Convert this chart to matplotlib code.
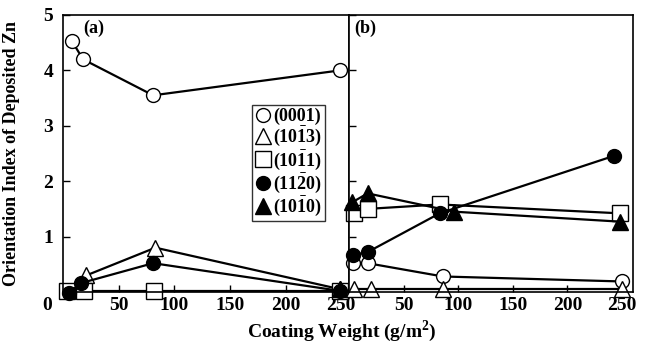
import matplotlib
matplotlib.use("Agg")
import matplotlib.pyplot as plt

plt.rcParams['font.family'] = 'Liberation Serif'
plt.rcParams['font.weight'] = 'bold'
plt.rcParams['mathtext.fontset'] = 'custom'
plt.rcParams['mathtext.rm'] = 'Liberation Serif:bold'
plt.rcParams['mathtext.bf'] = 'Liberation Serif:bold'

# Panel (a)
a_x_0001 = [8, 18, 81, 249]
a_y_0001 = [4.53, 4.2, 3.55, 4.0]
a_x_1013 = [21, 83, 249]
a_y_1013 = [0.3, 0.8, 0.05]
a_x_1011 = [4, 19, 82, 249]
a_y_1011 = [0.02, 0.02, 0.02, 0.02]
a_x_1120 = [5, 16, 81, 249]
a_y_1120 = [-0.02, 0.16, 0.52, 0.02]
a_x_1010 = [249]
a_y_1010 = [0.05]

# Panel (b)
b_x_0001 = [4, 17, 86, 250]
b_y_0001 = [0.52, 0.52, 0.28, 0.19]
b_x_1013 = [5, 20, 86, 250]
b_y_1013 = [0.05, 0.05, 0.05, 0.05]
b_x_1011 = [5, 17, 83, 248]
b_y_1011 = [1.42, 1.5, 1.58, 1.42]
b_x_1120 = [4, 17, 83, 243]
b_y_1120 = [0.67, 0.72, 1.42, 2.46]
b_x_1010 = [3, 17, 96, 248]
b_y_1010 = [1.62, 1.78, 1.45, 1.27]

labels = ['(0001)', r'(10$\bar{1}$3)', r'(10$\bar{1}$1)', r'(11$\bar{2}$0)', r'(10$\bar{1}$0)']
styles = [
    dict(marker='o', mfc='white', ms=10),
    dict(marker='^', mfc='white', ms=12),
    dict(marker='s', mfc='white', ms=11),
    dict(marker='o', mfc='black', ms=10),
    dict(marker='^', mfc='black', ms=12),
]

fig = plt.figure(figsize=(6.45, 3.43), dpi=100)
ax_a = fig.add_axes([0.0977, 0.1487, 0.4434, 0.8076])
ax_b = fig.add_axes([0.5411, 0.1487, 0.4403, 0.8076])

a_data = [(a_x_0001, a_y_0001), (a_x_1013, a_y_1013), (a_x_1011, a_y_1011),
          (a_x_1120, a_y_1120), (a_x_1010, a_y_1010)]
b_data = [(b_x_0001, b_y_0001), (b_x_1013, b_y_1013), (b_x_1011, b_y_1011),
          (b_x_1120, b_y_1120), (b_x_1010, b_y_1010)]

for (x, y), st in zip(a_data, styles):
    ax_a.plot(x, y, color='black', lw=1.6, mec='black', mew=1.0, clip_on=False, **st)
for (x, y), st in zip(b_data, styles):
    ax_b.plot(x, y, color='black', lw=1.6, mec='black', mew=1.0, clip_on=False, **st)

for ax in (ax_a, ax_b):
    ax.set_ylim(0, 5)
    ax.set_yticks([0, 1, 2, 3, 4, 5])
    ax.set_xticks([50, 100, 150, 200, 250])
    ax.tick_params(direction='in', length=5, width=1, labelsize=14)
    ax.tick_params(axis='y', pad=7)
    for s in ax.spines.values():
        s.set_linewidth(1.2)
ax_a.set_xlim(0, 257)
ax_b.set_xlim(0, 260)
ax_b.tick_params(labelleft=False)
ax_a.set_yticklabels(['', '1', '2', '3', '4', '5'])
# the "0" sits at the corner, level with the x tick labels
ax_a.text(-0.056, -0.047, '0', transform=ax_a.transAxes, fontsize=14,
          fontweight='bold', ha='center', va='center')

ax_a.text(0.07, 0.95, '(a)', transform=ax_a.transAxes, fontsize=13,
          fontweight='bold', va='center')
ax_b.text(0.02, 0.95, '(b)', transform=ax_b.transAxes, fontsize=13,
          fontweight='bold', va='center')

ax_a.set_ylabel('Orientation Index of Deposited Zn', fontsize=13, fontweight='bold')
ax_a.yaxis.set_label_coords(-0.15, 0.5)
fig.text(0.53, 0.035, r'Coating Weight (g/m$^2$)', ha='center', va='center',
         fontsize=14, fontweight='bold')

leg = ax_a.legend(handles=[plt.Line2D([], [], ls='none', color='black', mec='black',
                                      mew=1.0, **st) for st in styles],
                  labels=labels, loc='upper left', bbox_to_anchor=(0.66, 0.675),
                  frameon=True, fancybox=False, edgecolor='black', fontsize=13,
                  handlelength=0.9, handletextpad=0.15, labelspacing=0.0,
                  borderpad=0.15, borderaxespad=0)
leg.get_frame().set_linewidth(1.0)

plt.savefig('out.png', dpi=100)
